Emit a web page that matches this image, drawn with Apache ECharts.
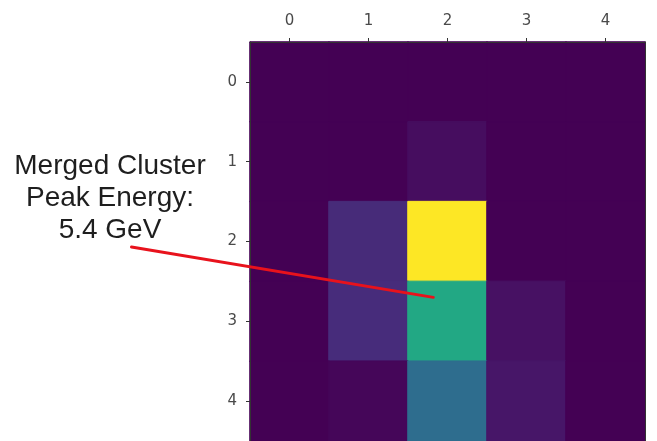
<!DOCTYPE html>
<html>
<head>
<meta charset="utf-8">
<script src="https://cdn.jsdelivr.net/npm/echarts@6/dist/echarts.min.js"></script>
<style>
  html, body { margin: 0; padding: 0; background: #ffffff; }
  #chart { width: 657px; height: 441px; }
</style>
</head>
<body>
<div id="chart"></div>
<script>
// Calorimeter cell grid: columns (x) and rows (y)
const columns = ['0', '1', '2', '3', '4'];
const rows = ['0', '1', '2', '3', '4'];

// Deposited energy per cell in GeV, one array per row (row 0 at the top)
const row0 = [0, 0, 0, 0, 0];
const row1 = [0, 0, 0.18, 0, 0];
const row2 = [0, 0.65, 5.4, 0, 0];
const row3 = [0, 0.68, 3.25, 0.24, 0];
const row4 = [0, 0.08, 1.92, 0.32, 0];
const energyRows = [row0, row1, row2, row3, row4];

// Annotation: text and the data point the pointer ends on (column, row)
const noteText = 'Merged Cluster\nPeak Energy:\n5.4 GeV';
const pointerEnd = [1.82, 2.7];
const pointerStart = [-2.0, 2.07];

// viridis colour ramp, evenly spaced every 0.05
const viridis = ['#440154', '#471365', '#482475', '#463480', '#414487', '#3b528b',
                 '#355f8d', '#2f6c8e', '#2a788e', '#25848e', '#21918c', '#1e9c89',
                 '#22a884', '#2fb47c', '#44bf70', '#5ec962', '#7ad151', '#9bd93c',
                 '#bddf26', '#dfe318', '#fde725'];

const vmax = Math.max(...energyRows.map(r => Math.max(...r)));

// Each cell gets its viridis colour; the border uses the same colour so
// neighbouring cells join without anti-aliasing seams.
const cells = [];
energyRows.forEach((r, yi) => r.forEach((v, xi) => {
  const c = echarts.color.lerp(v / vmax, viridis);
  cells.push({ value: [xi, yi, v], itemStyle: { color: c, borderColor: c, borderWidth: 1 } });
}));

const chart = echarts.init(document.getElementById('chart'));

const labelStyle = { color: '#4a4a4a', fontFamily: 'DejaVu Sans', fontSize: 15 };
const frameLine = { show: true, lineStyle: { color: '#333', width: 1 } };
const tickStyle = { show: true, alignWithLabel: true, length: 4, lineStyle: { color: '#333' } };

chart.setOption({
  animation: false,
  backgroundColor: '#ffffff',
  grid: { left: 250, top: 42, width: 395, height: 400 },
  xAxis: [
    { type: 'category', data: columns, position: 'top', z: 5,
      axisLine: frameLine, axisTick: tickStyle,
      axisLabel: Object.assign({ margin: 13 }, labelStyle),
      splitLine: { show: false }, splitArea: { show: false } },
    { type: 'category', data: columns, position: 'bottom', z: 5,
      axisLine: frameLine, axisTick: tickStyle, axisLabel: { show: false },
      splitLine: { show: false }, splitArea: { show: false } }
  ],
  yAxis: [
    { type: 'category', data: rows, inverse: true, position: 'left', z: 5,
      axisLine: frameLine, axisTick: tickStyle,
      axisLabel: Object.assign({ margin: 13 }, labelStyle),
      splitLine: { show: false }, splitArea: { show: false } },
    { type: 'category', data: rows, inverse: true, position: 'right', z: 5,
      axisLine: frameLine, axisTick: { show: false }, axisLabel: { show: false },
      splitLine: { show: false }, splitArea: { show: false } }
  ],
  series: [{
    type: 'heatmap',
    xAxisIndex: 0,
    yAxisIndex: 0,
    data: cells,
    emphasis: { disabled: true }
  }]
});

// Map fractional (column, row) positions to pixels through the axes
function toPixel(pt) {
  const a = chart.convertToPixel({ gridIndex: 0 }, [0, 0]);
  const b = chart.convertToPixel({ gridIndex: 0 }, [1, 1]);
  return [a[0] + pt[0] * (b[0] - a[0]), a[1] + pt[1] * (b[1] - a[1])];
}

const s = toPixel(pointerStart);
const e = toPixel(pointerEnd);

chart.setOption({
  graphic: [
    { type: 'line', z: 100,
      shape: { x1: s[0], y1: s[1], x2: e[0], y2: e[1] },
      style: { stroke: '#e8121c', lineWidth: 3, lineCap: 'round' } },
    { type: 'text', z: 100, x: 110, y: 198,
      style: { text: noteText, fill: '#1e1e1e', fontFamily: 'Liberation Sans',
               fontSize: 28, lineHeight: 32, align: 'center', verticalAlign: 'middle' } }
  ]
});
</script>
</body>
</html>
